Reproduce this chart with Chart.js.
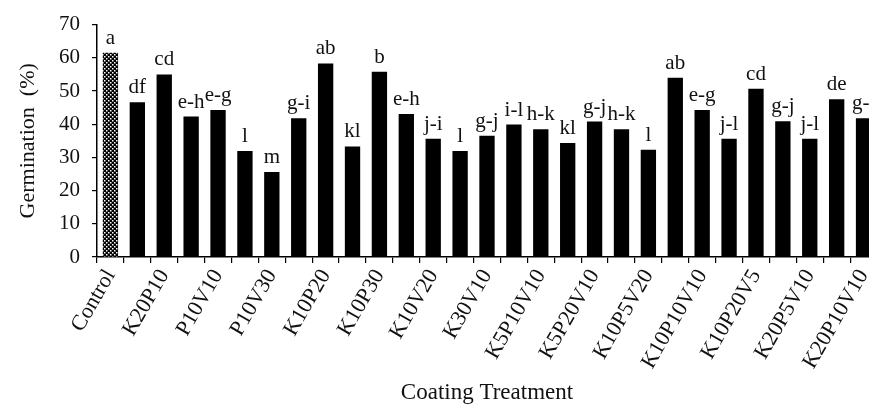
<!DOCTYPE html>
<html>
<head>
<meta charset="utf-8">
<script src="https://cdn.jsdelivr.net/npm/chart.js@4.4.1/dist/chart.umd.min.js"></script>
<style>
  html, body { margin: 0; padding: 0; background: #fff; overflow: hidden; width: 869px; height: 407px; }
  #clip { width: 869px; height: 407px; overflow: hidden; position: relative; }
  #wrap { width: 880px; height: 407px; position: absolute; left: 0; top: 0; }
</style>
</head>
<body>
<div id="clip"><div id="wrap"><canvas id="c"></canvas></div></div>
<script>
// ---- data ----
const categories = [
  'Control', 'K10P10', 'K20P10', 'K30P10', 'P10V10', 'P10V20', 'P10V30', 'P20V10',
  'K10P20', 'K20P20', 'K10P30', 'K10V10', 'K10V20', 'K20V10', 'K30V10', 'K5P10V5',
  'K5P10V10', 'K5P10V20', 'K5P20V10', 'K10P5V10', 'K10P5V20', 'K10P10V5', 'K10P10V10',
  'K10P20V10', 'K10P20V5', 'K20P5V5', 'K20P5V10', 'K20P10V5', 'K20P10V10'
];
const germination = [
  61.5, 46.6, 55.0, 42.3, 44.3, 31.9, 25.6, 41.8, 58.3, 33.3,
  55.8, 43.1, 35.6, 31.9, 36.5, 39.9, 38.5, 34.3, 40.8, 38.5,
  32.3, 54.0, 44.3, 35.6, 50.7, 40.9, 35.6, 47.5, 41.8
];
const groupLetters = [
  'a', 'df', 'cd', 'e-h', 'e-g', 'l', 'm', 'g-i', 'ab', 'kl',
  'b', 'e-h', 'j-i', 'l', 'g-j', 'i-l', 'h-k', 'kl', 'g-j', 'h-k',
  'l', 'ab', 'e-g', 'j-l', 'cd', 'g-j', 'j-l', 'de', 'g-i'
];
const yTicks = [0, 10, 20, 30, 40, 50, 60, 70];

// ---- control bar pattern ----
function makePattern() {
  const p = document.createElement('canvas');
  p.width = 4; p.height = 4;
  const g = p.getContext('2d');
  g.fillStyle = '#000';
  g.fillRect(0, 0, 4, 4);
  g.fillStyle = '#fff';
  g.fillRect(0, 0, 1.5, 1.5);
  g.fillRect(2, 2, 1.5, 1.5);
  return g.createPattern(p, 'repeat');
}
const pattern = makePattern();
const colors = germination.map((v, i) => i === 0 ? pattern : '#000');

const serif = "'Liberation Serif', 'Times New Roman', serif";

const letterPlugin = {
  id: 'letters',
  afterDatasetsDraw(chart) {
    const ctx = chart.ctx;
    const meta = chart.getDatasetMeta(0);
    ctx.save();
    ctx.fillStyle = '#111';
    ctx.font = '21px ' + serif;
    ctx.textAlign = 'center';
    ctx.textBaseline = 'bottom';
    meta.data.forEach((bar, i) => {
      ctx.fillText(groupLetters[i], bar.x, bar.y - 4);
    });
    ctx.restore();
  }
};

new Chart(document.getElementById('c'), {
  type: 'bar',
  data: {
    labels: categories,
    datasets: [{
      data: germination,
      backgroundColor: colors,
      borderColor: '#000',
      borderWidth: 0,
      barPercentage: 0.57,
      categoryPercentage: 1.0
    }]
  },
  options: {
    responsive: true,
    maintainAspectRatio: false,
    animation: false,
    layout: { padding: { top: 23, right: 3, left: 0, bottom: 0 } },
    plugins: { legend: { display: false }, tooltip: { enabled: false } },
    scales: {
      x: {
        offset: true,
        grid: { drawOnChartArea: false, offset: true, tickLength: 6, color: '#000', lineWidth: 1.2 },
        border: { color: '#000', width: 1.5 },
        ticks: {
          autoSkip: false,
          minRotation: 60,
          maxRotation: 60,
          padding: 2,
          color: '#111',
          font: { family: serif, size: 22 },
          callback: function(value, index) { return index % 2 === 0 ? categories[index] : ''; }
        },
        title: {
          display: true,
          text: 'Coating Treatment',
          color: '#111',
          font: { family: serif, size: 23 },
          padding: { top: 0, bottom: 0 }
        },
        afterFit: function(scale) { scale.height = 150; scale.paddingRight = 0; }
      },
      y: {
        min: 0,
        max: 70,
        afterBuildTicks: function(scale) { scale.ticks = yTicks.map(v => ({ value: v })); },
        grid: { drawOnChartArea: false, tickLength: 5, color: '#000', lineWidth: 1.2 },
        border: { color: '#000', width: 1.5 },
        ticks: {
          padding: 12,
          color: '#111',
          font: { family: serif, size: 21 }
        },
        title: {
          display: true,
          text: 'Germination  (%)',
          color: '#111',
          font: { family: serif, size: 22 },
          padding: { top: 15, bottom: 0 }
        },
        afterFit: function(scale) { scale.width = 97; }
      }
    }
  },
  plugins: [letterPlugin]
});
</script>
</body>
</html>
